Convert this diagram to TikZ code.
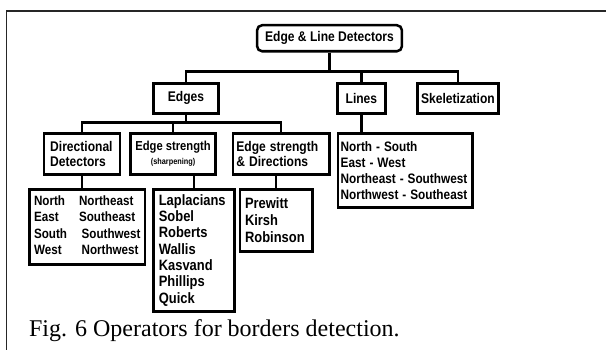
\documentclass[tikz,border=0pt]{standalone}
\usepackage{fontspec}
\setmainfont{Liberation Serif}
\setsansfont{Liberation Sans}
\usetikzlibrary{positioning,calc}
\tikzstyle{box} = [rectangle, draw, line width=2.5pt, inner sep=0pt, anchor=north west,
font=\sffamily\bfseries\fontsize{14}{15}\selectfont]
\tikzstyle{listbox} = [box, align=left, inner xsep=5pt]
\tikzstyle{link} = [line width=2.5pt]

\begin{document}
\begin{tikzpicture}[x=1pt, y=1pt, xscale=0.862, every node/.append style={transform shape}]
  \useasboundingbox (0,0) rectangle (703,-350);
  % open frame round the figure
  \draw[line width=1.5pt, black!85] (703,-11) -- (7.5,-11) -- (7.5,-350);

  \node (root) [box, rounded corners=5pt, minimum width=168pt, minimum height=26pt] at (297,-24) {Edge \& Line Detectors};

  \node (edges) [box, minimum width=75pt, minimum height=30pt] at (177,-82) {Edges};
  \node (lines) [box, minimum width=56pt, minimum height=30pt] at (390,-82) {Lines};
  \node (skel) [box, minimum width=94pt, minimum height=30pt] at (483,-82) {Skeletization};

  \node (dirdet) [listbox, text width=74pt, inner xsep=7pt, minimum height=41pt] at (50,-132) {Directional\\Detectors};
  \node (sharp) [box, align=center, minimum width=99pt, minimum height=41pt] at (150,-132)
    {\fontsize{13}{13}\selectfont Edge strength\\[-1pt]{\fontsize{8.5}{9}\selectfont (sharpening)}};
  \node (esdir) [listbox, text width=104pt, inner xsep=4pt, minimum height=41pt] at (269,-132) {Edge strength\\\& Directions};

  \node (lineslist) [listbox, text width=150pt, inner xsep=3pt, minimum height=74pt, font=\sffamily\bfseries\fontsize{13.7}{16}\selectfont] at (391,-132)
    {North - South\\East - West\\Northeast - Southwest\\Northwest - Southeast};

  \node (dirlist) [box, minimum width=134pt, minimum height=75pt, font=\sffamily\bfseries\fontsize{13.5}{16.3}\selectfont] at (33,-188)
    {\begin{tabular}{@{}l@{\hspace{14pt}}l@{}}
      North & Northeast\\
      East & Southeast\\
      South & \hspace{3pt}Southwest\\
      West & \hspace{3pt}Northwest
    \end{tabular}};
  \node (laplist) [listbox, text width=82pt, inner xsep=6pt, minimum height=122pt, font=\sffamily\bfseries\fontsize{15}{16.3}\selectfont] at (177,-188)
    {Laplacians\\Sobel\\Roberts\\Wallis\\Kasvand\\Phillips\\Quick};
  \node (prlist) [listbox, text width=72pt, inner xsep=6pt, minimum height=62pt, font=\sffamily\bfseries\fontsize{15}{17}\selectfont] at (277,-188)
    {Prewitt\\Kirsh\\Robinson};

  \foreach \kid in {edges, lines, skel}
    \draw[link] (root.south) -- ++(0,-19) -| (\kid.north);
  \foreach \kid in {dirdet, sharp, esdir}
    \draw[link] (edges.south) -- ++(0,-8) -| (\kid.north);
  \draw[link] (dirdet.south) -- (dirdet.south |- dirlist.north);
  \draw[link] (sharp.south -| laplist.north) -- (laplist.north);
  \draw[link] (esdir.south -| prlist.north) -- (prlist.north);
  \draw[link] (lines.south) -- (lines.south |- lineslist.north);

  \node (caption) [anchor=base west, inner sep=0pt, font=\fontsize{24}{28}\selectfont] at (33.6,-336)
    {\scalebox{1.16}[1]{Fig. 6 Operators for borders detection.}};
\end{tikzpicture}
\end{document}
